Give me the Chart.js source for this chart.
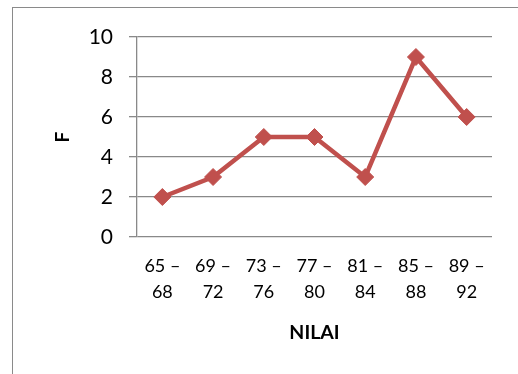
<!DOCTYPE html>
<html>
<head>
<meta charset="utf-8">
<script src="https://cdn.jsdelivr.net/npm/chart.js@4"></script>
<style>
  html, body { margin: 0; padding: 0; background: #ffffff; }
  #wrap { position: relative; width: 518px; height: 374px; overflow: hidden; }
  #frame {
    position: absolute; left: 12px; top: 7px; width: 600px; height: 500px;
    border-left: 1px solid #8a8a8a; border-top: 1px solid #8a8a8a;
    pointer-events: none;
  }
  canvas { position: absolute; left: 0; top: 0; }
</style>
</head>
<body>
<div id="wrap">
  <canvas id="chart" width="518" height="374"></canvas>
  <div id="frame"></div>
</div>
<script>
// Class intervals of the scores and their frequencies
const categories = [["65 –", "68"], ["69 –", "72"], ["73 –", "76"], ["77 –", "80"], ["81 –", "84"], ["85 –", "88"], ["89 –", "92"]];
const frequencies = [2, 3, 5, 5, 3, 9, 6];
const yTicks = [0, 2, 4, 6, 8, 10];
const xTitle = "NILAI";
const yTitle = "F";

const red = "#C0504D";
const grid = "#898989";
const fontFamily = "Lato, 'Open Sans', sans-serif";

new Chart(document.getElementById("chart"), {
  type: "line",
  data: {
    labels: categories,
    datasets: [{
      data: frequencies,
      borderColor: red,
      backgroundColor: red,
      borderWidth: 4.5,
      pointStyle: "rectRot",
      pointRadius: 8.5,
      pointBorderWidth: 1,
      pointBorderColor: red,
      pointBackgroundColor: red,
      tension: 0,
      fill: false
    }]
  },
  options: {
    responsive: false,
    animation: false,
    layout: { padding: { left: 0, right: 26, top: 37, bottom: 0 } },
    plugins: { legend: { display: false }, tooltip: { enabled: false } },
    scales: {
      x: {
        offset: true,
        grid: { display: false },
        border: { display: false },
        ticks: {
          color: "#000000",
          font: { family: fontFamily, size: 18, lineHeight: 1.4 },
          padding: 9,
          maxRotation: 0,
          autoSkip: false
        },
        title: {
          display: true,
          text: xTitle,
          color: "#000000",
          font: { family: fontFamily, size: 19.5, weight: "bold" },
          padding: { top: 0, bottom: 30 }
        },
        afterFit: s => { s.height = 137; }
      },
      y: {
        min: 0,
        max: 10,
        afterBuildTicks: s => { s.ticks = yTicks.map(v => ({ value: v })); },
        grid: { color: grid, lineWidth: 1.3, tickLength: 8, drawTicks: true },
        border: { display: true, color: grid, width: 1.3 },
        ticks: {
          color: "#000000",
          font: { family: fontFamily, size: 21 },
          padding: 16
        },
        title: {
          display: true,
          text: yTitle,
          color: "#000000",
          font: { family: fontFamily, size: 19, weight: "bold" },
          padding: { top: 51, bottom: 0 }
        },
        afterFit: s => { s.width = 137; }
      }
    }
  }
});
</script>
</body>
</html>
